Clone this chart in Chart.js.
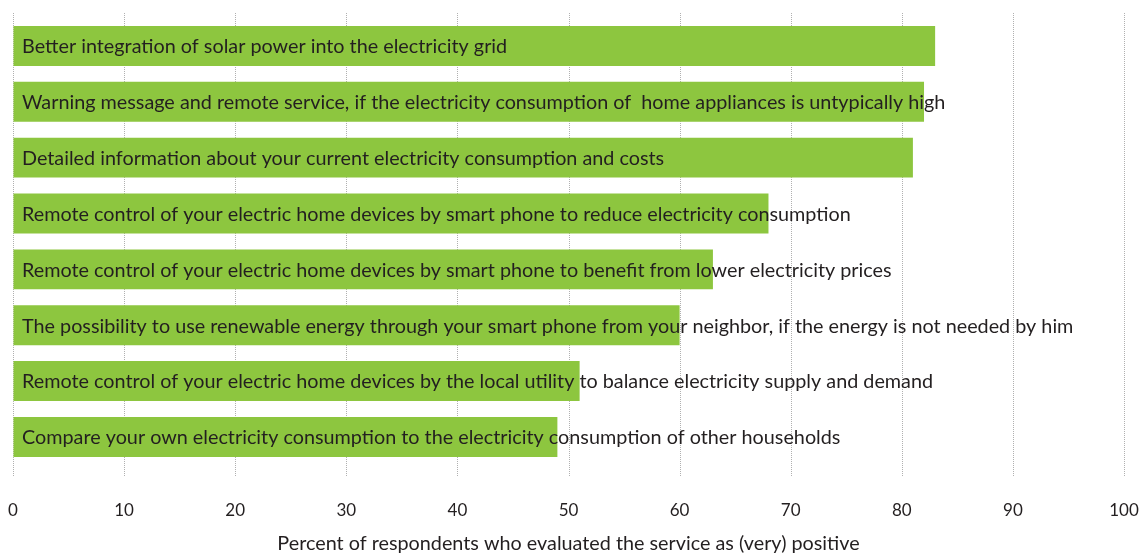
<!DOCTYPE html>
<html>
<head>
<meta charset="utf-8">
<script src="https://cdn.jsdelivr.net/npm/chart.js@4"></script>
<style>
  html, body { margin: 0; padding: 0; background: #fff; }
  #wrap { width: 1141px; height: 555px; position: relative; }
</style>
</head>
<body>
<div id="wrap"><canvas id="chart"></canvas></div>
<script>
const services = [
    'Better integration of solar power into the electricity grid',
    'Warning message and remote service, if the electricity consumption of  home appliances is untypically high',
    'Detailed information about your current electricity consumption and costs',
    'Remote control of your electric home devices by smart phone to reduce electricity consumption',
    'Remote control of your electric home devices by smart phone to benefit from lower electricity prices',
    'The possibility to use renewable energy through your smart phone from your neighbor, if the energy is not needed by him',
    'Remote control of your electric home devices by the local utility to balance electricity supply and demand',
    'Compare your own electricity consumption to the electricity consumption of other households'
];
const positiveShare = [83, 82, 81, 68, 63, 60, 51, 49];
const axisTitle = 'Percent of respondents who evaluated the service as (very) positive';

const fontFamily = 'Lato, "Open Sans", sans-serif';
const textColor = '#231f20';
const labelSize = 19.8;

// dotted vertical grid, a bit longer than the chart area
const dottedGrid = {
    id: 'dottedGrid',
    beforeDatasetsDraw(chart) {
        const { ctx, chartArea, scales } = chart;
        ctx.save();
        ctx.strokeStyle = '#b0b0b0';
        ctx.lineWidth = 1;
        ctx.setLineDash([1, 1]);
        scales.x.ticks.forEach((t) => {
            const x = Math.round(scales.x.getPixelForValue(t.value)) + 0.5;
            ctx.beginPath();
            ctx.moveTo(x, chartArea.top - 5);
            ctx.lineTo(x, chartArea.bottom + 12);
            ctx.stroke();
        });
        ctx.restore();
    }
};

// category names written over the bars
const barLabels = {
    id: 'barLabels',
    afterDatasetsDraw(chart) {
        const { ctx } = chart;
        const meta = chart.getDatasetMeta(0);
        ctx.save();
        ctx.font = labelSize + 'px ' + fontFamily;
        ctx.fillStyle = textColor;
        ctx.textBaseline = 'middle';
        ctx.textAlign = 'left';
        meta.data.forEach((bar, i) => {
            ctx.fillText(services[i], chart.chartArea.left + 9, bar.y + 1);
        });
        ctx.restore();
    }
};

new Chart(document.getElementById('chart'), {
    type: 'bar',
    data: {
        labels: services,
        datasets: [{
            data: positiveShare,
            backgroundColor: '#8dc63f',
            borderWidth: 0,
            categoryPercentage: 1,
            barPercentage: 0.715
        }]
    },
    options: {
        indexAxis: 'y',
        responsive: true,
        maintainAspectRatio: false,
        animation: false,
        layout: { padding: { left: 13, right: 17, top: 18, bottom: 0 } },
        plugins: {
            legend: { display: false },
            tooltip: { enabled: false }
        },
        scales: {
            x: {
                min: 0,
                max: 100,
                ticks: {
                    stepSize: 10,
                    padding: 0,
                    color: textColor,
                    font: { family: fontFamily, size: 17 }
                },
                grid: {
                    color: 'rgba(0,0,0,0)',
                    drawOnChartArea: false,
                    drawTicks: true,
                    tickLength: 35
                },
                border: { display: false },
                title: {
                    display: true,
                    text: axisTitle,
                    color: textColor,
                    font: { family: fontFamily, size: labelSize },
                    padding: { top: 11, bottom: 0 }
                }
            },
            y: {
                display: false
            }
        }
    },
    plugins: [dottedGrid, barLabels]
});
</script>
</body>
</html>
